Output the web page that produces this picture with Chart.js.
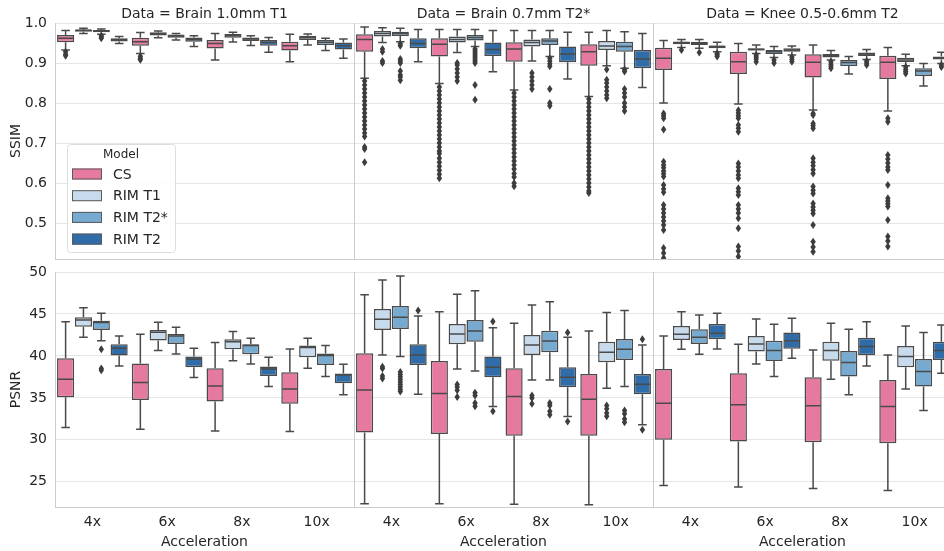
<!DOCTYPE html>
<html>
<head>
<meta charset="utf-8">
<script src="https://cdn.jsdelivr.net/npm/chart.js@4.4.0/dist/chart.umd.min.js"></script>
<style>
  html, body { margin: 0; padding: 0; background: #fff; }
  #fig { position: relative; width: 944px; height: 551px; overflow: hidden; background: #fff; }
  #fig canvas { position: absolute; }
</style>
</head>
<body>
<div id="fig">
  <canvas id="c0" width="354" height="260" style="left:0;top:0"></canvas>
  <canvas id="c1" width="299" height="260" style="left:354px;top:0"></canvas>
  <canvas id="c2" width="299" height="260" style="left:653px;top:0"></canvas>
  <canvas id="c3" width="354" height="296" style="left:0;top:255px"></canvas>
  <canvas id="c4" width="299" height="296" style="left:354px;top:255px"></canvas>
  <canvas id="c5" width="299" height="296" style="left:653px;top:255px"></canvas>
</div>
<script>
// ---- data ----
const accelerations = ["4x", "6x", "8x", "10x"];
const models = ["CS", "RIM T1", "RIM T2*", "RIM T2"];
const dataTitles = ["Data = Brain 1.0mm T1", "Data = Brain 0.7mm T2*", "Data = Knee 0.5-0.6mm T2"];
const ssimTicks = [0.5, 0.6, 0.7, 0.8, 0.9, 1.0];
const psnrTicks = [25, 30, 35, 40, 45, 50];

// box stats per model, per acceleration: [whisker low, Q1, median, Q3, whisker high]
const ssimBrainT1 = [
  [[0.9325, 0.952, 0.962, 0.970, 0.981], [0.924, 0.943, 0.953, 0.963, 0.976], [0.9075, 0.936, 0.949, 0.9575, 0.974], [0.903, 0.931, 0.943, 0.953, 0.972]],
  [[0.974, 0.978, 0.982, 0.984, 0.987], [0.963, 0.969, 0.973, 0.977, 0.980], [0.9525, 0.963, 0.968, 0.9725, 0.977], [0.945, 0.9575, 0.963, 0.968, 0.9725]],
  [[0.972, 0.977, 0.980, 0.9825, 0.985], [0.9575, 0.963, 0.9675, 0.971, 0.974], [0.944, 0.955, 0.960, 0.964, 0.968], [0.931, 0.945, 0.952, 0.9575, 0.962]],
  [[0.949, 0.954, 0.958, 0.962, 0.966], [0.941, 0.953, 0.959, 0.964, 0.968], [0.927, 0.943, 0.952, 0.9575, 0.964], [0.912, 0.934, 0.943, 0.951, 0.960]]
];
const ssimBrainT1Out = [
  [[0.928, 0.922, 0.918], [0.917, 0.912, 0.908], [], []],
  [[], [], [], []],
  [[0.968, 0.965, 0.962], [], [], []],
  [[], [], [], []]
];

const ssimBrainT2s = [
  [[0.862, 0.928, 0.959, 0.972, 0.990], [0.849, 0.916, 0.947, 0.962, 0.984], [0.8325, 0.903, 0.935, 0.952, 0.981], [0.816, 0.893, 0.928, 0.947, 0.977]],
  [[0.951, 0.966, 0.974, 0.980, 0.988], [0.926, 0.951, 0.959, 0.966, 0.984], [0.905, 0.941, 0.951, 0.959, 0.981], [0.893, 0.9325, 0.9425, 0.955, 0.981]],
  [[0.953, 0.9675, 0.974, 0.978, 0.987], [0.941, 0.956, 0.964, 0.970, 0.984], [0.916, 0.945, 0.955, 0.962, 0.981], [0.887, 0.928, 0.941, 0.953, 0.978]],
  [[0.903, 0.937, 0.949, 0.962, 0.984], [0.878, 0.9175, 0.934, 0.951, 0.981], [0.860, 0.902, 0.9225, 0.941, 0.977], [0.839, 0.887, 0.910, 0.9325, 0.974]]
];
const ssimBrainT2sOut = [
  [[0.855, 0.845, 0.835, 0.825, 0.815, 0.805, 0.795, 0.785, 0.775, 0.765, 0.755, 0.745, 0.735, 0.725, 0.716, 0.69, 0.685, 0.652],
   [0.84, 0.83, 0.82, 0.81, 0.80, 0.79, 0.78, 0.77, 0.76, 0.75, 0.74, 0.73, 0.72, 0.71, 0.70, 0.69, 0.68, 0.674, 0.662, 0.652, 0.642, 0.632, 0.622, 0.612],
   [0.825, 0.815, 0.805, 0.795, 0.785, 0.775, 0.765, 0.755, 0.745, 0.735, 0.725, 0.715, 0.705, 0.695, 0.685, 0.675, 0.665, 0.655, 0.645, 0.635, 0.624, 0.615, 0.60, 0.592],
   [0.81, 0.80, 0.79, 0.78, 0.77, 0.76, 0.75, 0.74, 0.73, 0.72, 0.71, 0.70, 0.69, 0.68, 0.67, 0.66, 0.65, 0.64, 0.63, 0.62, 0.61, 0.60, 0.59, 0.58, 0.575]],
  [[0.935, 0.928, 0.905, 0.900], [0.90, 0.895, 0.885, 0.875, 0.865, 0.855], [0.875, 0.865, 0.855, 0.845, 0.835], [0.884, 0.858, 0.85, 0.84, 0.83, 0.82, 0.812]],
  [[0.948, 0.943, 0.91, 0.905, 0.90, 0.88, 0.87, 0.865, 0.857], [0.935, 0.93, 0.925, 0.92, 0.915, 0.91, 0.905, 0.90, 0.845, 0.808], [0.912, 0.905, 0.898, 0.892, 0.835, 0.80, 0.793], [0.884, 0.879, 0.835, 0.825, 0.815, 0.80, 0.79, 0.78]],
  [[], [], [], []]
];

const ssimKnee = [
  [[0.80, 0.8825, 0.912, 0.938, 0.956], [0.7975, 0.8725, 0.903, 0.928, 0.949], [0.7825, 0.864, 0.902, 0.922, 0.945], [0.78, 0.86, 0.902, 0.918, 0.939]],
  [[0.939, 0.947, 0.951, 0.953, 0.959], [0.924, 0.931, 0.934, 0.937, 0.945], [0.9075, 0.914, 0.919, 0.9225, 0.931], [0.893, 0.9025, 0.9075, 0.913, 0.922]],
  [[0.937, 0.945, 0.949, 0.953, 0.959], [0.914, 0.9225, 0.928, 0.9325, 0.941], [0.8725, 0.8925, 0.901, 0.9075, 0.916], [0.8425, 0.8675, 0.88, 0.887, 0.899]],
  [[0.928, 0.937, 0.941, 0.944, 0.952], [0.92, 0.928, 0.9325, 0.937, 0.9425], [0.909, 0.9175, 0.9225, 0.926, 0.934], [0.899, 0.909, 0.913, 0.916, 0.927]]
];
const ssimKneeOut = [
  [[0.774, 0.768, 0.762, 0.734, 0.653, 0.645, 0.638, 0.63, 0.623, 0.616, 0.595, 0.585, 0.577, 0.545, 0.535, 0.525, 0.515, 0.505, 0.495, 0.4825, 0.4375, 0.425, 0.4125],
   [0.782, 0.775, 0.768, 0.762, 0.745, 0.737, 0.728, 0.649, 0.64, 0.63, 0.62, 0.612, 0.587, 0.578, 0.57, 0.545, 0.535, 0.525, 0.512, 0.487, 0.441, 0.43, 0.416],
   [0.774, 0.77, 0.749, 0.743, 0.737, 0.662, 0.652, 0.643, 0.633, 0.624, 0.591, 0.582, 0.574, 0.549, 0.54, 0.532, 0.524, 0.495, 0.453, 0.44, 0.428],
   [0.762, 0.753, 0.67, 0.66, 0.65, 0.64, 0.6325, 0.595, 0.562, 0.555, 0.548, 0.541, 0.5075, 0.466, 0.455, 0.441]],
  [[0.9325], [0.92, 0.915, 0.91, 0.903], [0.903, 0.897, 0.892, 0.887], [0.89, 0.884, 0.879, 0.874]],
  [[0.926], [0.9075, 0.90], [], []],
  [[0.924, 0.92, 0.916], [0.915, 0.909, 0.903], [0.905, 0.9, 0.895], [0.895, 0.89]]
];

const psnrBrainT1 = [
  [[31.46, 35.08, 37.23, 39.73, 44.08], [31.27, 34.76, 36.83, 39.09, 42.58], [31.07, 34.56, 36.43, 38.53, 41.59], [30.99, 34.29, 36.07, 38.06, 40.83]],
  [[42.22, 43.49, 44.29, 44.6, 45.75], [40.64, 41.83, 42.82, 43.1, 44.0], [39.44, 40.8, 41.7, 41.98, 42.9], [38.53, 39.84, 40.99, 41.23, 42.1]],
  [[41.8, 43.1, 43.97, 44.2, 45.08], [40.24, 41.43, 42.38, 42.62, 43.42], [39.05, 40.2, 41.23, 41.39, 42.1], [37.54, 38.93, 40.04, 40.28, 41.23]],
  [[38.81, 40.04, 40.91, 41.39, 42.38], [37.42, 38.65, 39.6, 39.92, 40.91], [36.35, 37.62, 38.45, 38.73, 39.84], [35.36, 36.75, 37.74, 37.9, 39.01]]
];
const psnrBrainT1Out = [
  [[], [], [], []],
  [[], [], [], []],
  [[40.8, 38.5, 38.3], [], [], []],
  [[], [], [], []]
];

const psnrBrainT2s = [
  [[22.38, 30.87, 35.95, 40.32, 47.3], [22.38, 30.71, 35.51, 39.4, 45.27], [22.34, 30.48, 35.16, 38.53, 43.89], [22.26, 30.48, 34.84, 37.86, 42.98]],
  [[40.12, 43.1, 44.37, 45.6, 49.05], [38.45, 41.39, 42.62, 43.81, 47.34], [37.14, 40.12, 41.31, 42.5, 46.07], [36.15, 39.25, 40.44, 41.7, 45.16]],
  [[39.92, 43.2, 44.6, 45.95, 49.52], [38.21, 41.7, 42.98, 44.29, 47.78], [37.14, 40.44, 41.79, 43.01, 46.46], [36.35, 39.52, 40.8, 42.02, 45.4]],
  [[35.44, 38.93, 40.12, 41.39, 44.76], [33.97, 37.46, 38.65, 39.92, 43.37], [32.78, 36.27, 37.46, 38.65, 42.22], [31.79, 35.44, 36.63, 37.86, 41.31]]
];
const psnrBrainT2sOut = [
  [[], [], [], []],
  [[38.7, 38.5, 37.6, 37.3], [36.6, 36.3, 35.9, 35.1], [35.3, 35.0, 34.3], [34.1, 33.7, 33.2, 32.8]],
  [[38.1, 37.8, 37.5, 37.2, 36.9, 36.6, 36.3, 36.0, 35.75], [35.6, 35.3, 34.4, 34.0], [34.4, 34.1, 33.4, 33.0], [33.5, 33.1, 32.5, 32.1]],
  [[45.4], [44.1, 33.4], [42.8, 32.2], [42.0, 31.2]]
];

const psnrKnee = [
  [[24.56, 30.0, 34.37, 38.45, 42.38], [24.37, 29.8, 34.17, 37.94, 41.39], [24.2, 29.72, 34.05, 37.46, 40.71], [23.97, 29.6, 33.97, 37.14, 40.12]],
  [[40.8, 41.9, 42.58, 43.57, 45.27], [39.05, 40.52, 41.43, 42.38, 44.4], [37.22, 39.44, 40.64, 41.7, 43.89], [36.07, 38.65, 39.92, 41.19, 43.57]],
  [[40.2, 41.43, 42.22, 43.18, 44.88], [37.54, 39.4, 40.64, 41.82, 43.77], [35.36, 37.54, 39.21, 40.6, 43.18], [33.49, 36.35, 38.13, 39.64, 42.78]],
  [[40.83, 41.99, 42.7, 43.81, 45.08], [39.73, 40.87, 41.82, 42.78, 44.48], [38.81, 40.08, 41.11, 42.18, 44.08], [37.94, 39.52, 40.64, 41.7, 43.69]]
];
const psnrKneeOut = [
  [[], [], [], []],
  [[], [], [], []],
  [[], [], [], []],
  [[], [], [], []]
];

// ---- style ----
const modelColors = ["#e6799f", "#c8dbec", "#76aad0", "#2f6ca8"];
const lineColor = "#4a4a4a";
const flierColor = "#3d3d3d";
const gridColor = "#e6e6e6";
const spineColor = "#cccccc";
const textColor = "#262626";

Chart.defaults.font.family = "'DejaVu Sans', sans-serif";
Chart.defaults.font.size = 14;
Chart.defaults.color = textColor;

// ======= whiskers, medians, fliers =======
const boxParts = {
  id: "boxParts",
  afterDatasetsDraw(chart) {
    const { ctx, chartArea: a } = chart;
    const y = chart.scales.y;
    ctx.save();
    ctx.beginPath();
    ctx.rect(a.left, a.top, a.right - a.left, a.bottom - a.top);
    ctx.clip();
    chart.data.datasets.forEach((ds, i) => {
      chart.getDatasetMeta(i).data.forEach((bar, j) => {
        const [lo, q1, med, q3, hi] = ds.stats[j];
        const x = bar.x, hw = bar.width / 2, cap = bar.width / 4;
        ctx.strokeStyle = lineColor;
        ctx.lineWidth = 1.5;
        ctx.beginPath();
        ctx.moveTo(x, y.getPixelForValue(q3)); ctx.lineTo(x, y.getPixelForValue(hi));
        ctx.moveTo(x, y.getPixelForValue(q1)); ctx.lineTo(x, y.getPixelForValue(lo));
        ctx.moveTo(x - cap, y.getPixelForValue(hi)); ctx.lineTo(x + cap, y.getPixelForValue(hi));
        ctx.moveTo(x - cap, y.getPixelForValue(lo)); ctx.lineTo(x + cap, y.getPixelForValue(lo));
        ctx.moveTo(x - hw + 1, y.getPixelForValue(med)); ctx.lineTo(x + hw - 1, y.getPixelForValue(med));
        ctx.stroke();
        ctx.fillStyle = flierColor;
        ds.fliers[j].forEach(v => {
          const py = y.getPixelForValue(v);
          ctx.beginPath();
          ctx.moveTo(x, py - 4);
          ctx.lineTo(x + 2.7, py);
          ctx.lineTo(x, py + 4);
          ctx.lineTo(x - 2.7, py);
          ctx.closePath();
          ctx.fill();
        });
      });
    });
    ctx.restore();
  }
};

// ======= legend box in first panel =======
const modelLegend = {
  id: "modelLegend",
  afterDraw(chart) {
    const { ctx, chartArea: a } = chart;
    const x0 = a.left + 12, y0 = a.top + 121, w = 108, h = 108;
    ctx.save();
    ctx.fillStyle = "rgba(255,255,255,0.85)";
    ctx.strokeStyle = "#dddddd";
    ctx.lineWidth = 1;
    ctx.beginPath();
    ctx.roundRect(x0 + 0.5, y0 + 0.5, w, h, 3);
    ctx.fill();
    ctx.stroke();
    ctx.fillStyle = textColor;
    ctx.textBaseline = "middle";
    ctx.textAlign = "center";
    ctx.font = "12px 'DejaVu Sans'";
    ctx.fillText("Model", x0 + w / 2, y0 + 11);
    ctx.textAlign = "left";
    ctx.font = "14px 'DejaVu Sans'";
    models.forEach((m, i) => {
      const cy = y0 + 30 + i * 21.7;
      ctx.fillStyle = modelColors[i];
      ctx.fillRect(x0 + 5, cy - 5.5, 30, 11);
      ctx.strokeStyle = "#5a5a5a";
      ctx.strokeRect(x0 + 5.5, cy - 5, 29, 10);
      ctx.fillStyle = textColor;
      ctx.fillText(m, x0 + 46, cy + 1);
    });
    ctx.restore();
  }
};

function makePanel(id, stats, fliers, cfg) {
  const datasets = models.map((m, i) => ({
    label: m,
    data: stats[i].map(s => [s[1], s[3]]),
    stats: stats[i],
    fliers: fliers[i],
    backgroundColor: modelColors[i],
    borderColor: lineColor,
    borderWidth: 1.5,
    borderSkipped: false,
    categoryPercentage: 0.955,
    barPercentage: 0.96
  }));
  return new Chart(document.getElementById(id), {
    type: "bar",
    data: { labels: accelerations, datasets },
    plugins: cfg.legend ? [boxParts, modelLegend] : [boxParts],
    options: {
      responsive: false,
      animation: false,
      layout: { padding: { top: cfg.padTop, left: 0, right: 0, bottom: 0 } },
      plugins: {
        legend: { display: false },
        tooltip: { enabled: false },
        title: {
          display: !!cfg.title,
          text: cfg.title,
          fullSize: false,
          color: textColor,
          font: { size: 14, weight: "normal" },
          padding: { top: 5.5, bottom: 0.7 }
        }
      },
      scales: {
        x: {
          grid: { display: false, drawTicks: false },
          border: { display: true, color: spineColor },
          ticks: { display: cfg.xLabels, padding: 7, color: textColor },
          title: { display: cfg.xLabels, text: "Acceleration", color: textColor, padding: { top: 0, bottom: 0 } },
          afterFit: s => { s.height = cfg.xLabels ? 44 : 1; s.paddingLeft = 0; s.paddingRight = 0; }
        },
        y: {
          min: cfg.min,
          max: cfg.max,
          grid: { color: gridColor, drawTicks: false },
          border: { display: true, color: spineColor },
          ticks: {
            display: cfg.yLabels,
            includeBounds: false,
            padding: 8,
            stepSize: cfg.step,
            color: textColor,
            callback: v => cfg.ticks.includes(+v.toFixed(2)) ? (cfg.step < 1 ? v.toFixed(1) : String(Math.round(v))) : ""
          },
          title: { display: cfg.yLabels, text: cfg.yTitle, color: textColor, padding: { top: 8, bottom: 0 } },
          afterFit: s => { s.width = cfg.yLabels ? 55 : 0; s.paddingTop = 0; s.paddingBottom = 0; }
        }
      }
    }
  });
}

const ssimCfg = { min: 0.41, max: 1.0, step: 0.1, ticks: ssimTicks, yTitle: "SSIM", padTop: 0, xLabels: false };
const psnrCfg = { min: 22, max: 50, step: 5, ticks: psnrTicks, yTitle: "PSNR", padTop: 17, xLabels: true };

makePanel("c0", ssimBrainT1, ssimBrainT1Out, { ...ssimCfg, title: dataTitles[0], yLabels: true, legend: true });
makePanel("c1", ssimBrainT2s, ssimBrainT2sOut, { ...ssimCfg, title: dataTitles[1], yLabels: false });
makePanel("c2", ssimKnee, ssimKneeOut, { ...ssimCfg, title: dataTitles[2], yLabels: false });
makePanel("c3", psnrBrainT1, psnrBrainT1Out, { ...psnrCfg, yLabels: true });
makePanel("c4", psnrBrainT2s, psnrBrainT2sOut, { ...psnrCfg, yLabels: false });
makePanel("c5", psnrKnee, psnrKneeOut, { ...psnrCfg, yLabels: false });
</script>
</body>
</html>
